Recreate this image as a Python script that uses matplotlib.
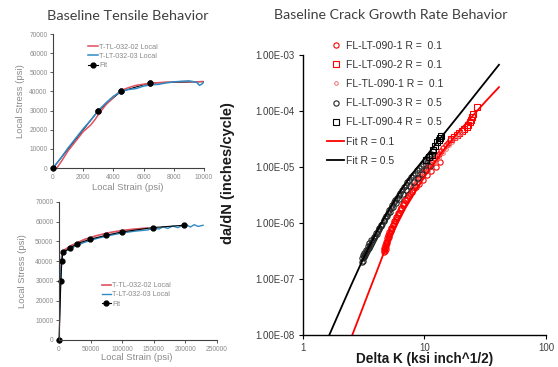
import matplotlib
matplotlib.use('Agg')
import matplotlib.pyplot as plt
from matplotlib.ticker import FixedLocator, FixedFormatter

plt.rcParams['font.family'] = ['Liberation Sans', 'DejaVu Sans']

# ---- tensile data (psi) ----
tl02_strain = [250, 600, 1000, 1500, 2000, 2500, 2800, 3100, 3500, 4000, 4500, 5000,
               5500, 6000, 6500, 7000, 7500, 8000, 8500, 9000, 9500, 9900]
tl02_stress = [0, 4000, 9000, 14000, 19000, 22500, 25500, 29000, 33000, 37000, 40500, 42000,
               43200, 43800, 44300, 44600, 44900, 45000, 45100, 45200, 45000, 45200]
lt03_strain = [0, 200, 500, 1000, 1500, 2000, 2500, 3000, 3500, 4000, 4500, 5000, 5500,
               6000, 6500, 7000, 7500, 8000, 8500, 9000, 9500, 9700, 9850, 10000]
lt03_stress = [0, 2000, 5000, 10500, 15500, 20500, 25000, 30000, 34000, 37500, 40000, 41000,
               41500, 42800, 43500, 43700, 44500, 45000, 45300, 45500, 44800, 43200, 43800, 45000]

tl02_strain_full = [0, 1000, 2500, 4000, 6000, 10000, 20000, 40000, 60000, 80000, 100000,
                    120000, 140000]
tl02_stress_full = [0, 15000, 32000, 42500, 45000, 46000, 48000, 51000, 53000, 54500, 55600,
                    56300, 56800]
lt03_strain_full = [0, 1000, 2500, 4000, 6000, 10000, 20000, 40000, 60000, 80000, 100000,
                    120000, 140000, 150000, 158000, 165000, 172000, 180000, 188000, 195000,
                    202000, 208000, 214000, 220000, 228000]
lt03_stress_full = [0, 14000, 31000, 41000, 43800, 45000, 46800, 49500, 51500, 53000, 54300,
                    55200, 55800, 56800, 56300, 57400, 56600, 57800, 57000, 58000, 58400,
                    57300, 58500, 57600, 58200]

fit_strain = [0, 3000, 4500, 6400, 17500, 29000, 49000, 74000, 99000, 148000, 197000]
fit_stress = [0, 30000, 40000, 44400, 46700, 48900, 51100, 53100, 54800, 57000, 58200]

# ---- crack growth data: Delta K (ksi inch^1/2), da/dN (inches/cycle) ----
lt0901_dk = [4.62, 4.66, 4.70, 4.74, 4.78, 4.82, 4.86, 4.90, 4.95, 5.00, 5.06, 5.12, 5.19,
             5.26, 5.34, 5.42, 5.51, 5.60, 5.70, 5.80, 5.91, 6.03, 6.16, 6.30, 6.45, 6.61,
             6.78, 6.96, 7.15, 7.36, 7.58, 7.82, 8.07, 8.34, 8.62, 8.92, 9.24, 9.58, 9.94,
             10.3, 10.7, 11.1, 11.6, 12.1, 12.6, 13.1, 13.7, 14.3, 14.9, 15.6, 16.3,
             4.68, 4.76, 4.84, 4.93, 5.03, 5.15, 5.30, 5.46, 5.65, 5.85, 6.10, 6.38, 6.70,
             7.05, 7.47, 7.95, 8.48, 9.08, 9.75, 10.5, 11.35, 12.35, 13.4]
lt0901_dadn = [3.0e-7, 3.3e-7, 3.1e-7, 3.5e-7, 3.4e-7, 3.8e-7, 4.1e-7, 4.4e-7, 4.8e-7,
               5.2e-7, 5.6e-7, 6.1e-7, 6.6e-7, 7.0e-7, 7.6e-7, 8.2e-7, 9.0e-7, 9.8e-7,
               1.07e-6, 1.16e-6, 1.27e-6, 1.38e-6, 1.52e-6, 1.68e-6, 1.86e-6, 2.05e-6,
               2.28e-6, 2.52e-6, 2.78e-6, 3.1e-6, 3.45e-6, 3.85e-6, 4.3e-6, 4.8e-6, 5.4e-6,
               6.0e-6, 6.6e-6, 7.3e-6, 8.1e-6, 9.0e-6, 1.0e-5, 1.1e-5, 1.23e-5, 1.38e-5,
               1.55e-5, 1.72e-5, 1.93e-5, 2.15e-5, 2.4e-5, 2.7e-5, 3.0e-5,
               3.6e-7, 4.0e-7, 4.6e-7, 5.3e-7, 6.0e-7, 6.9e-7, 8.0e-7, 9.2e-7, 1.08e-6,
               1.26e-6, 1.5e-6, 1.8e-6, 2.15e-6, 2.55e-6, 3.05e-6, 3.6e-6, 4.3e-6, 5.0e-6,
               5.9e-6, 7.0e-6, 8.3e-6, 1.0e-5, 1.2e-5]
lt0902_dk = [16.5, 17.5, 18.4, 19.3, 20.2, 21.2, 22.2, 22.9, 23.5, 24.0, 24.5, 24.9, 26.9]
lt0902_dadn = [3.1e-5, 3.4e-5, 3.7e-5, 4.0e-5, 4.3e-5, 4.7e-5, 5.1e-5, 5.6e-5, 6.3e-5,
               6.9e-5, 7.8e-5, 8.7e-5, 1.17e-4]
tl0901_dk = [8.2, 9.0, 9.8, 10.6, 11.4, 12.3, 13.2, 14.1, 15.0, 16.0, 17.0, 18.0, 19.0, 20.0]
tl0901_dadn = [4.9e-6, 5.9e-6, 7.0e-6, 8.4e-6, 1.0e-5, 1.2e-5, 1.45e-5, 1.75e-5, 2.05e-5,
               2.4e-5, 2.8e-5, 3.2e-5, 3.6e-5, 4.0e-5]
lt0903_dk = [3.05, 3.08, 3.12, 3.15, 3.20, 3.25, 3.30, 3.36, 3.42, 3.48, 3.55, 3.62, 3.70,
             3.78, 3.86, 3.95, 4.05, 4.15, 4.25, 4.36, 4.48, 4.60, 4.72, 4.85, 4.98, 5.12,
             5.27, 5.42, 5.58, 5.75, 5.93, 6.12, 6.32, 6.53, 6.75, 6.98, 7.22, 7.48, 7.75,
             8.03, 8.33, 8.64, 8.97, 9.31, 9.67, 10.05, 10.45, 10.87, 11.3, 11.75,
             3.10, 3.18, 3.28, 3.40, 3.52, 3.66, 3.82, 4.00, 4.20, 4.42, 4.66, 4.92, 5.20,
             5.50, 5.84, 6.22, 6.64, 7.10, 7.60, 8.18, 8.80, 9.50, 10.25, 11.05]
lt0903_dadn = [2.0e-7, 2.3e-7, 2.1e-7, 2.5e-7, 2.4e-7, 2.7e-7, 2.9e-7, 3.1e-7, 3.4e-7,
               3.6e-7, 3.9e-7, 4.2e-7, 4.5e-7, 5.0e-7, 5.3e-7, 5.8e-7, 6.4e-7, 7.2e-7,
               7.9e-7, 8.6e-7, 9.6e-7, 1.08e-6, 1.2e-6, 1.34e-6, 1.5e-6, 1.66e-6, 1.85e-6,
               2.05e-6, 2.3e-6, 2.5e-6, 2.8e-6, 3.1e-6, 3.45e-6, 3.8e-6, 4.3e-6, 4.8e-6,
               5.3e-6, 5.9e-6, 6.5e-6, 7.1e-6, 7.8e-6, 8.6e-6, 9.4e-6, 1.03e-5, 1.12e-5,
               1.24e-5, 1.38e-5, 1.55e-5, 1.72e-5, 1.92e-5,
               2.6e-7, 2.9e-7, 3.3e-7, 3.8e-7, 4.3e-7, 4.9e-7, 5.6e-7, 6.6e-7, 7.8e-7,
               9.2e-7, 1.1e-6, 1.32e-6, 1.58e-6, 1.9e-6, 2.25e-6, 2.7e-6, 3.2e-6, 3.9e-6,
               4.6e-6, 5.4e-6, 6.4e-6, 7.5e-6, 8.9e-6, 1.05e-5]
lt0904_dk = [10.2, 10.8, 11.5, 11.8, 12.3, 12.6, 13.1, 13.5, 13.8]
lt0904_dadn = [1.3e-5, 1.5e-5, 1.63e-5, 2.0e-5, 2.3e-5, 2.73e-5, 3.0e-5, 3.3e-5, 3.6e-5]

fit01_dk = [2.55, 3.0, 3.5, 4.0, 4.6, 5.3, 6.1, 7.0, 8.0, 10.0, 13.9, 18.0, 24.0, 32.0, 41.0]
fit01_dadn = [1.0e-8, 2.5e-8, 6.0e-8, 1.26e-7, 2.8e-7, 5.5e-7, 1.05e-6, 1.86e-6, 3.0e-6,
              6.6e-6, 1.82e-5, 3.6e-5, 7.4e-5, 1.48e-4, 2.63e-4]
fit05_dk = [1.65, 2.0, 2.5, 3.0, 3.5, 4.0, 4.7, 5.5, 6.5, 8.0, 10.0, 14.0, 20.0, 28.0, 41.0]
fit05_dadn = [1.0e-8, 2.6e-8, 7.8e-8, 1.86e-7, 3.7e-7, 6.6e-7, 1.26e-6, 2.24e-6, 4.0e-6,
              7.6e-6, 1.41e-5, 3.55e-5, 9.3e-5, 2.34e-4, 6.6e-4]

log_ticks = [1e-8, 1e-7, 1e-6, 1e-5, 1e-4, 1e-3]
log_tick_labels = ['1.00E-08', '1.00E-07', '1.00E-06', '1.00E-05', '1.00E-04', '1.00E-03']

red_c = '#e0505e'
blue_c = '#2f8ac4'
gray_txt = '#8a8a8a'

fig = plt.figure(figsize=(5.58, 3.67), dpi=100)

def style_tensile(ax, xmax, xstep):
    ax.set_xlim(0, xmax)
    ax.set_ylim(0, 70000)
    ax.set_xticks(range(0, xmax + 1, xstep))
    ax.set_yticks(range(0, 70001, 10000))
    for s in ['top', 'right']:
        ax.spines[s].set_visible(False)
    for s in ['left', 'bottom']:
        ax.spines[s].set_color('#404040')
        ax.spines[s].set_linewidth(0.8)
    ax.tick_params(labelsize=4.8, colors='#404040', labelcolor=gray_txt,
                   length=2, width=0.6, pad=2)

# top-left: small strain range
ax1 = fig.add_axes([0.095, 0.5422, 0.2706, 0.3651])
ax1.plot(fit_strain, fit_stress, color='black', lw=0.8, marker='o', ms=3.5,
         label='Fit', zorder=1)
ax1.plot(tl02_strain, tl02_stress, color=red_c, lw=1.1, label='T-TL-032-02 Local', zorder=2)
ax1.plot(lt03_strain, lt03_stress, color=blue_c, lw=1.1, label='T-LT-032-03 Local', zorder=2)
ax1.plot(fit_strain[:4], fit_stress[:4], 'o', color='black', ms=3.5, zorder=3, clip_on=False)
style_tensile(ax1, 10000, 2000)
h, l = ax1.get_legend_handles_labels()
fig.legend([h[1], h[2], h[0]], [l[1], l[2], l[0]], loc='upper left',
           bbox_to_anchor=(0.158, 0.881), frameon=False, fontsize=5.2, labelcolor=gray_txt,
           handlelength=1.3, handletextpad=0.2, labelspacing=0.3, borderpad=0, borderaxespad=0)

# bottom-left: full strain range
ax2 = fig.add_axes([0.1057, 0.0736, 0.2832, 0.376])
ax2.plot(tl02_strain_full, tl02_stress_full, color=red_c, lw=1.2, label='T-TL-032-02 Local')
ax2.plot(lt03_strain_full, lt03_stress_full, color=blue_c, lw=1.0, label='T-LT-032-03 Local')
ax2.plot(fit_strain, fit_stress, color='black', lw=0.8, marker='o', ms=3.5, label='Fit',
         clip_on=False)
style_tensile(ax2, 250000, 50000)
fig.legend(*ax2.get_legend_handles_labels(), loc='upper left',
           bbox_to_anchor=(0.182, 0.2316), frameon=False, fontsize=5.2, labelcolor=gray_txt,
           handlelength=1.3, handletextpad=0.2, labelspacing=0.3, borderpad=0, borderaxespad=0)

for x, y, t, r in [(21, 101, 'Local Stress (psi)', 90), (23, 271, 'Local Stress (psi)', 90),
                   (128, 187, 'Local Strain (psi)', 0), (137, 357, 'Local Strain (psi)', 0)]:
    fig.text(x / 558, 1 - y / 367, t, rotation=r, ha='center', va='center',
             fontsize=6.8, color=gray_txt)

# right: crack growth rate
ax3 = fig.add_axes([0.543, 0.088, 0.4355, 0.763])
ax3.set_xscale('log')
ax3.set_yscale('log')
mk = dict(ls='none', mfc='none', ms=3.8, mew=0.8)
ax3.plot(lt0901_dk, lt0901_dadn, marker='o', color='red', label='FL-LT-090-1 R =  0.1', **mk)
ax3.plot(lt0902_dk, lt0902_dadn, marker='s', color='red', label='FL-LT-090-2 R =  0.1', **mk)
ax3.plot(tl0901_dk, tl0901_dadn, marker='o', color='#f07070', ls='none', mfc='none',
         ms=2.6, mew=0.7, label='FL-TL-090-1 R =  0.1')
ax3.plot(lt0903_dk, lt0903_dadn, marker='o', color='#222222', label='FL-LT-090-3 R =  0.5', **mk)
ax3.plot(lt0904_dk, lt0904_dadn, marker='s', color='black', label='FL-LT-090-4 R =  0.5', **mk)
ax3.plot(fit01_dk, fit01_dadn, color='red', lw=1.3, label='Fit R = 0.1')
ax3.plot(fit05_dk, fit05_dadn, color='black', lw=1.3, label='Fit R = 0.5')
ax3.set_xlim(1, 100)
ax3.set_ylim(1e-8, 1e-3)
ax3.yaxis.set_major_locator(FixedLocator(log_ticks))
ax3.yaxis.set_major_formatter(FixedFormatter(log_tick_labels))
ax3.yaxis.set_minor_locator(FixedLocator([]))
ax3.xaxis.set_major_locator(FixedLocator([1, 10, 100]))
ax3.xaxis.set_major_formatter(FixedFormatter(['1', '10', '100']))
ax3.xaxis.set_minor_locator(FixedLocator([]))
for s in ['top', 'right']:
    ax3.spines[s].set_visible(False)
for s in ['left', 'bottom']:
    ax3.spines[s].set_linewidth(1.0)
ax3.tick_params(labelsize=7, labelcolor='#404040', length=3, width=0.8, pad=3)
fig.legend(*ax3.get_legend_handles_labels(), loc='upper left',
           bbox_to_anchor=(0.5855, 0.889), frameon=False, fontsize=7.5, labelcolor='#333333',
           handlelength=1.7, handletextpad=0.15, labelspacing=0.88, borderpad=0,
           borderaxespad=0)

fig.text(425 / 558, 1 - 358.5 / 367, 'Delta K (ksi inch^1/2)', ha='center', va='center',
         fontsize=9.8, fontweight='bold', color='#1a1a1a')
fig.text(227.6 / 558, 1 - 173 / 367, 'da/dN (inches/cycle)', rotation=90, ha='center',
         va='center', fontsize=10.5, fontweight='bold', color='#1a1a1a')

# titles
fig.text(128 / 558, 1 - 15.7 / 367, 'Baseline Tensile Behavior', ha='center', va='center',
         fontsize=10.4, color='#404040', family=['Lato', 'DejaVu Sans'])
fig.text(390.8 / 558, 1 - 15 / 367, 'Baseline Crack Growth Rate Behavior', ha='center',
         va='center', fontsize=10.2, color='#404040', family=['Lato', 'DejaVu Sans'])

fig.savefig('out.png', dpi=100)
